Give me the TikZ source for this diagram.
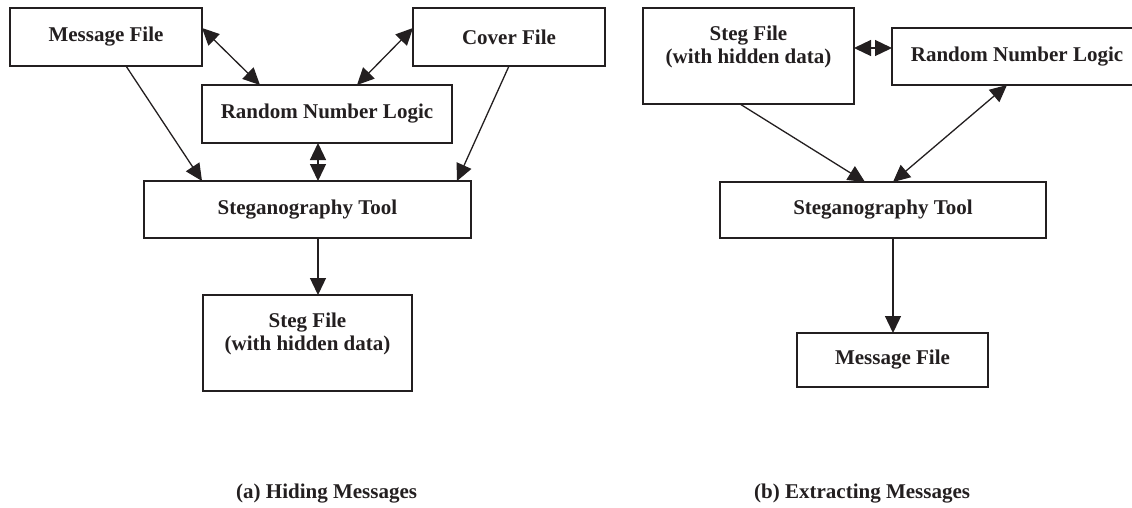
\documentclass[tikz,border=0pt]{standalone}
\usepackage{fontspec}
\setmainfont{Liberation Serif}
\usetikzlibrary{arrows.meta}
\definecolor{ink}{RGB}{35,31,32}
\begin{document}
\begin{tikzpicture}[x=1pt,y=-1pt,
  box/.style={draw=ink,line width=1.6pt,inner sep=0pt,outer sep=0pt,anchor=north west,
    font=\fontsize{21}{24}\selectfont\bfseries,text=ink,align=center},
  lbl/.style={inner sep=0pt,font=\fontsize{21}{23}\selectfont\bfseries,text=ink,align=center},
  conn/.style={draw=ink,line width=1.3pt},
  >={Triangle[length=17pt,width=16pt]}]
\useasboundingbox (0,0) rectangle (1132,507);
% ---- (a) Hiding ----
\node[box,minimum width=192pt,minimum height=58pt] (mfL) at (10,8) {Message File};
\node[box,minimum width=192pt,minimum height=58pt] (cfL) at (413,8) {Cover File};
\node[box,minimum width=250pt,minimum height=58pt] (rnlL) at (202,85) {Random Number Logic};
\node[box,minimum width=327pt,minimum height=57pt] (stL) at (144,181) {Steganography Tool};
\node[box,minimum width=209pt,minimum height=96pt] (sfL) at (203,295) {};
\node[lbl,anchor=north] (sfLt) at ([yshift=-18pt]sfL.north) {Steg File\\(with hidden data)};
\draw[conn,<->] ([yshift=-20pt]mfL.north east) -- ([xshift=58pt]rnlL.north west);
\draw[conn,<->] ([yshift=-20pt]cfL.north west) -- ([xshift=155pt]rnlL.north west);
\draw[conn,->] ([xshift=116pt]mfL.south west) -- ([xshift=58pt]stL.north west);
\draw[conn,->] ([xshift=96pt]cfL.south west) -- ([xshift=313pt]stL.north west);
\draw[conn,<->] ([xshift=116pt]rnlL.south west) -- ([xshift=174pt]stL.north west);
\draw[conn,->] ([xshift=174pt]stL.south west) -- ([xshift=115pt]sfL.north west);
% ---- (b) Extracting ----
\node[box,minimum width=211pt,minimum height=96pt] (sfR) at (643,8) {};
\node[lbl,anchor=north] (sfRt) at ([yshift=-18pt]sfR.north) {Steg File\\(with hidden data)};
\node[box,minimum width=250pt,minimum height=57pt] (rnlR) at (892,28) {Random Number Logic};
\node[box,minimum width=326pt,minimum height=56pt] (stR) at (720,182) {Steganography Tool};
\node[box,minimum width=191pt,minimum height=54pt] (mfR) at (797,333) {Message File};
\draw[conn,<->] ([yshift=-40pt]sfR.north east) -- ([yshift=-20pt]rnlR.north west);
\draw[conn,->] ([xshift=97pt]sfR.south west) -- ([xshift=145pt]stR.north west);
\draw[conn,<->] ([xshift=115pt]rnlR.south west) -- ([xshift=173pt]stR.north west);
\draw[conn,->] ([xshift=173pt]stR.south west) -- ([xshift=96pt]mfR.north west);
% ---- captions ----
\node[lbl,anchor=base west] (capA) at (236,498) {(a) Hiding Messages};
\node[lbl,anchor=base west] (capB) at (754,498) {(b) Extracting Messages};
\end{tikzpicture}
\end{document}
